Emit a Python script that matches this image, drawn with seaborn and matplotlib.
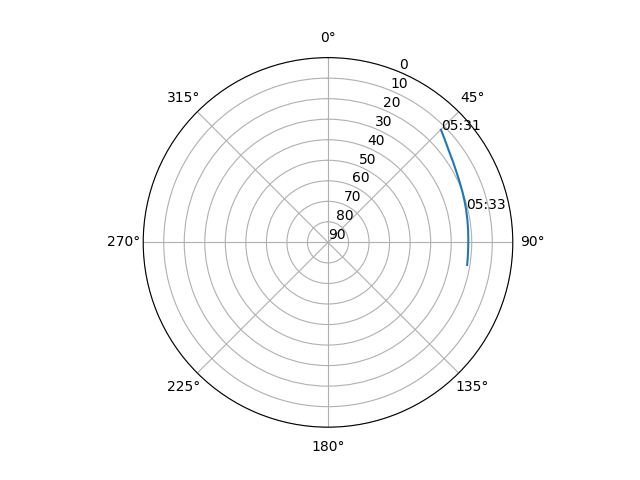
import numpy as np
import matplotlib
matplotlib.use("Agg")
import matplotlib.pyplot as plt
import seaborn as sns

# satellite pass: azimuth (deg), elevation (deg)
azimuth = [45.1, 49.0, 53.0, 57.0, 61.0, 65.0, 69.0, 73.0, 76.5, 81.0, 85.0, 89.0, 93.0, 96.0, 99.2]
elevation = [12.3, 14.4, 16.2, 17.5, 18.6, 19.4, 20.0, 20.5, 20.85, 21.25, 21.5, 21.65, 21.65, 21.55, 21.35]
labels = ["05:31", "", "", "", "", "", "", "", "05:33", "", "", "", "", "", ""]

fig = plt.figure(figsize=(6.4, 4.8), dpi=100)
ax = fig.add_subplot(111, projection="polar")
ax.set_theta_zero_location("N")
ax.set_theta_direction(-1)

theta = np.radians(azimuth)
sns.lineplot(x=theta, y=elevation, ax=ax, sort=False)

for t, e, lab in zip(theta, elevation, labels):
    if lab:
        ax.text(t, e, lab)

ax.set_rlim(90, 0)
ax.set_yticks(range(0, 91, 10))

plt.savefig("out.png")
plt.close()
